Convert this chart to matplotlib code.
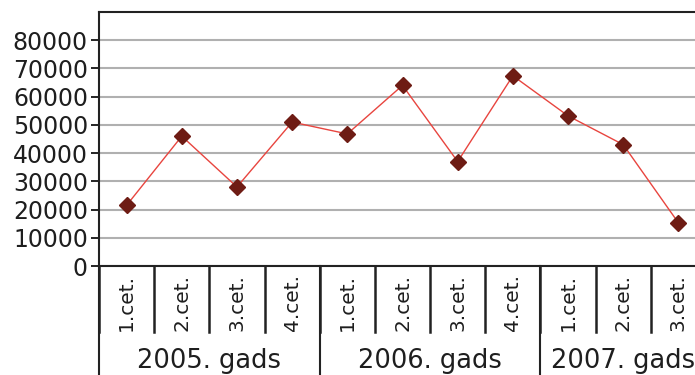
import numpy as np
import matplotlib.pyplot as plt
import matplotlib.transforms as mtransforms

# quarterly values, 2005 Q1 .. 2007 Q3
years = ["2005. gads", "2006. gads", "2007. gads"]
quarters_per_year = [4, 4, 3]
quarter_labels = ["1.cet.", "2.cet.", "3.cet.", "4.cet.",
                  "1.cet.", "2.cet.", "3.cet.", "4.cet.",
                  "1.cet.", "2.cet.", "3.cet."]
values = [21500, 46000, 28000, 51000, 46800, 64000,
          37000, 67400, 53200, 43000, 15300]
y_ticks = [0, 10000, 20000, 30000, 40000, 50000, 60000, 70000, 80000]

plt.rcParams['font.family'] = ['DejaVu Sans']

fig = plt.figure(figsize=(6.95, 3.75), dpi=100)
ax = fig.add_axes([99/695, 1 - 266/375, 607/695, 254/375])

x = np.arange(len(values))
ax.plot(x, values, color="#e8453f", linewidth=1.0, zorder=3)
ax.plot(x, values, linestyle="none", marker="D", markersize=8.5,
        color="#6e1c14", zorder=4)

ax.set_xlim(-0.5, len(values) - 0.5)
ax.set_ylim(0, 90000)
ax.set_yticks(y_ticks)
ax.set_yticklabels([str(v) for v in y_ticks], fontsize=17, color="#1e1e1e")
ax.tick_params(axis="y", length=6, width=1.2, pad=2)
ax.grid(axis="y", color="#b0b0b0", linewidth=1.5)
ax.set_axisbelow(True)

ax.set_xticks([])
for side in ["left", "top", "bottom"]:
    ax.spines[side].set_color("#222222")
    ax.spines[side].set_linewidth(1.5)
ax.spines["right"].set_visible(False)

# category axis below the plot: quarter labels, separators, year labels
trans = mtransforms.blended_transform_factory(ax.transData, ax.transAxes)
for i, lab in enumerate(quarter_labels):
    ax.text(i, -0.142, lab, rotation=90, ha="center", va="center",
            fontsize=14.5, color="#1e1e1e", transform=trans)

for i in range(len(values) + 1):
    ax.plot([i - 0.5, i - 0.5], [0, -0.26], color="#222222",
            linewidth=1.8, transform=trans, clip_on=False)

start = 0
for name, n in zip(years, quarters_per_year):
    ax.plot([start - 0.5, start - 0.5], [0, -0.45], color="#222222",
            linewidth=1.5, transform=trans, clip_on=False)
    ax.text(start + (n - 1) / 2, -0.375, name, ha="center", va="center",
            fontsize=18.5, color="#1e1e1e", transform=trans)
    start += n
ax.plot([start - 0.5, start - 0.5], [0, -0.45], color="#222222",
        linewidth=1.5, transform=trans, clip_on=False)

fig.savefig("out.png", dpi=100)
